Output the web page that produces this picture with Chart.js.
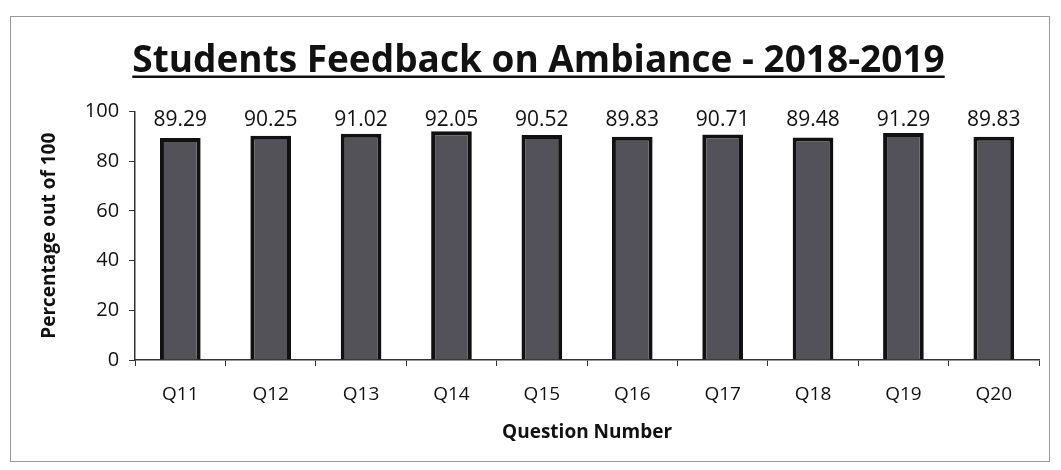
<!DOCTYPE html>
<html>
<head>
<meta charset="utf-8">
<script src="https://cdn.jsdelivr.net/npm/chart.js@4.4.0/dist/chart.umd.min.js"></script>
<style>
  body { margin: 0; background: #fff; }
  #wrap { position: absolute; left: 10px; top: 16px; width: 1040px; height: 446px; border: 1px solid #999; box-sizing: border-box; }
</style>
</head>
<body>
<div id="wrap"><canvas id="grafico"></canvas></div>
<script>
// Dados do gráfico
const perguntas = ['Q11', 'Q12', 'Q13', 'Q14', 'Q15', 'Q16', 'Q17', 'Q18', 'Q19', 'Q20'];
const percentuais = [89.29, 90.25, 91.02, 92.05, 90.52, 89.83, 90.71, 89.48, 91.29, 89.83];
const ticksY = [0, 20, 40, 60, 80, 100];

const fonte = "'Open Sans', 'Liberation Sans', sans-serif";
const tamTitulo = 37;

// Valores acima das barras
const rotulos = {
    id: 'rotulos',
    afterDatasetsDraw(chart) {
        const ctx = chart.ctx;
        const meta = chart.getDatasetMeta(0);
        ctx.save();
        ctx.font = '21px ' + fonte;
        ctx.fillStyle = '#111';
        ctx.textAlign = 'center';
        ctx.textBaseline = 'alphabetic';
        const topo = chart.scales.y.getPixelForValue(100);
        meta.data.forEach((barra, i) => {
            ctx.fillText(percentuais[i].toFixed(2), barra.x, topo + 15);
        });
        ctx.restore();
    }
};

// Sublinhado do título
const sublinhado = {
    id: 'sublinhado',
    afterDraw(chart) {
        const t = chart.titleBlock;
        if (!t) return;
        const ctx = chart.ctx;
        ctx.save();
        ctx.font = 'bold ' + tamTitulo + 'px ' + fonte;
        const w = ctx.measureText(t.options.text).width;
        const cx = (t.left + t.right) / 2;
        const centro = t.top + t.options.padding.top + tamTitulo * 1.2 / 2;
        const y = centro + tamTitulo * 0.42;
        ctx.strokeStyle = '#111';
        ctx.lineWidth = 2.5;
        ctx.beginPath();
        ctx.moveTo(cx - w / 2, y);
        ctx.lineTo(cx + w / 2, y);
        ctx.stroke();
        ctx.restore();
    }
};

const ctx = document.getElementById('grafico').getContext('2d');
new Chart(ctx, {
    type: 'bar',
    data: {
        labels: perguntas,
        datasets: [{
            data: percentuais,
            backgroundColor: '#525258',
            borderColor: '#111',
            borderWidth: 4,
            barPercentage: 0.45,
            categoryPercentage: 1
        }]
    },
    options: {
        responsive: true,
        maintainAspectRatio: false,
        animation: false,
        layout: { padding: { left: 27, right: 10, top: 0, bottom: 19 } },
        plugins: {
            legend: { display: false },
            tooltip: { enabled: false },
            title: {
                display: true,
                text: 'Students Feedback on Ambiance - 2018-2019',
                color: '#111',
                font: { family: fonte, size: tamTitulo, weight: 'bold' },
                padding: { top: 22, bottom: 28 }
            }
        },
        scales: {
            x: {
                grid: { display: true, drawOnChartArea: false, drawTicks: true, tickLength: 6, color: '#333', offset: true },
                border: { display: true, color: '#333', width: 1.5 },
                ticks: { color: '#111', font: { family: fonte, size: 19, lineHeight: 1 }, padding: 19 },
                title: { display: true, text: 'Question Number', color: '#111', font: { family: fonte, size: 19, weight: 'bold', lineHeight: 1 }, padding: { top: 0, bottom: 0 } }
            },
            y: {
                min: 0,
                max: 100,
                afterBuildTicks(axis) { axis.ticks = ticksY.map(v => ({ value: v })); },
                grid: { display: true, drawOnChartArea: false, drawTicks: true, tickLength: 6, color: '#333' },
                border: { display: true, color: '#333', width: 1.5 },
                ticks: { color: '#111', font: { family: fonte, size: 20 }, padding: 10 },
                title: { display: true, text: 'Percentage out of 100', color: '#111', font: { family: fonte, size: 19, weight: 'bold' }, padding: { top: 0, bottom: 14 } }
            }
        }
    },
    plugins: [rotulos, sublinhado]
});
</script>
</body>
</html>
